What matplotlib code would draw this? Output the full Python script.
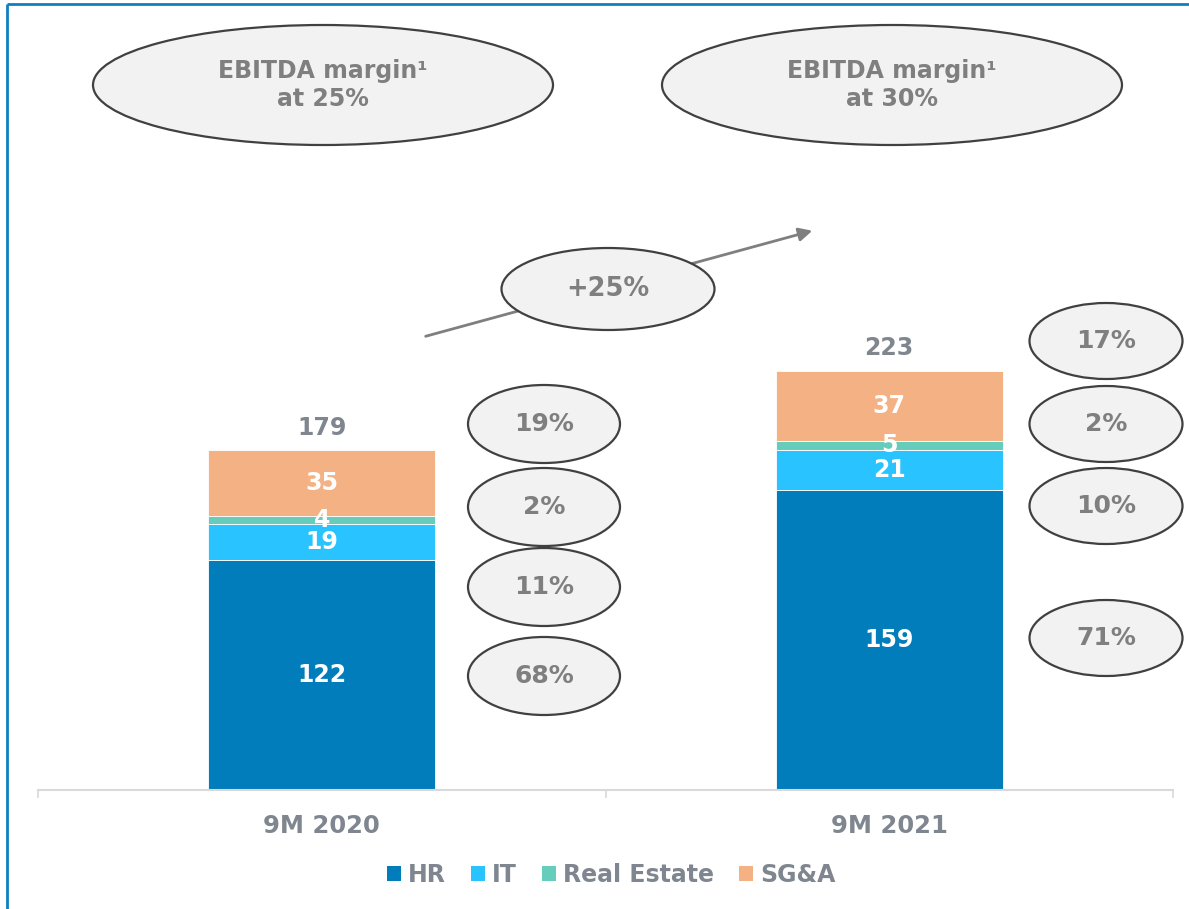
import numpy as np
import matplotlib.pyplot as plt
from matplotlib.patches import Ellipse, Patch

# datos
periodos = ['9M 2020', '9M 2021']
series = ['HR', 'IT', 'Real Estate', 'SG&A']
hr = [122, 159]
it = [19, 21]
real_estate = [4, 5]
sga = [35, 37]
totales = [179, 223]
pct_2020 = ['68%', '11%', '2%', '19%']
pct_2021 = ['71%', '10%', '2%', '17%']
margenes = ['EBITDA margin\u00b9\nat 25%', 'EBITDA margin\u00b9\nat 30%']
crecimiento = '+25%'

colores = ['#007dba', '#29c3ff', '#66ccbb', '#f4b183']
gris = '#7f868f'
gris_elipse = '#7f7f7f'

fig = plt.figure(figsize=(11.89, 9.09), dpi=100)

# eje principal con las barras
ax = fig.add_axes([38 / 1189, 1 - 790 / 909, 1135 / 1189, 790 / 909])
x = np.arange(len(periodos))
base = np.zeros(len(periodos))
for nombre, valores, color in zip(series, [hr, it, real_estate, sga], colores):
    valores = np.array(valores)
    ax.bar(x, valores, width=0.4, bottom=base, color=color, edgecolor='white',
           linewidth=0.6, label=nombre)
    for xi, b, v in zip(x, base, valores):
        ax.text(xi, b + v / 2, str(v), ha='center', va='center', color='white',
                fontsize=17, fontweight='bold')
    base += valores

for xi, t, b in zip(x, totales, base):
    ax.text(xi, b + 12, str(t), ha='center', va='center', color=gris,
            fontsize=17, fontweight='bold')

ax.set_xlim(-0.5, 1.5)
ax.set_ylim(0, 790 / 1.888)
ax.set_xticks(x)
ax.set_xticklabels(periodos, fontsize=17.5, fontweight='bold', color=gris)
ax.tick_params(axis='x', which='major', length=0, pad=17)
ax.set_xticks([-0.5, 0.5, 1.5], minor=True)
ax.tick_params(axis='x', which='minor', length=6, color='#d9d9d9', width=1.2)
ax.set_yticks([])
for lado in ['top', 'right', 'left']:
    ax.spines[lado].set_visible(False)
ax.spines['bottom'].set_color('#d9d9d9')
ax.spines['bottom'].set_linewidth(1.5)
ax.patch.set_alpha(0)

handles = [Patch(facecolor=c, edgecolor='none') for c in colores]
leg = fig.legend(handles, series, loc='center', bbox_to_anchor=(611 / 1189, 1 - 875 / 909),
                 ncol=4, frameon=False, handlelength=0.6, handleheight=0.6,
                 handletextpad=0.3, columnspacing=1.05,
                 prop={'size': 17, 'weight': 'bold'})
for t in leg.get_texts():
    t.set_color(gris)

# capa de anotaciones en pixeles
ov = fig.add_axes([0, 0, 1, 1])
ov.set_xlim(0, 1189)
ov.set_ylim(909, 0)
ov.axis('off')
ov.patch.set_alpha(0)


def elipse(cx, cy, w, h, texto, size=18):
    ov.add_patch(Ellipse((cx, cy), w, h, facecolor='#f2f2f2', edgecolor='#404040',
                         linewidth=1.6, zorder=3))
    ov.text(cx, cy, texto, ha='center', va='center', color=gris_elipse, fontsize=size,
            fontweight='bold', zorder=4, linespacing=1.2)


elipse(323, 85, 460, 120, margenes[0], size=17)
elipse(892, 85, 460, 120, margenes[1], size=17)

ov.annotate('', xy=(815, 230), xytext=(423, 337),
            arrowprops=dict(arrowstyle='-|>', color='#7f7f7f', lw=2, mutation_scale=20),
            zorder=2)
elipse(608, 289, 213, 82, crecimiento, size=18.5)

for cy, p in zip([676, 587, 507, 424], pct_2020):
    elipse(544, cy, 152, 78, p)
for cy, p in zip([638, 506, 424, 341], pct_2021):
    elipse(1106, cy, 153, 76, p)

# borde azul
ov.plot([7, 1189], [4, 4], color='#0e7ec0', lw=2, solid_capstyle='butt')
ov.plot([7, 7], [4, 909], color='#0e7ec0', lw=2, solid_capstyle='butt')

fig.savefig('out.png', dpi=100)
